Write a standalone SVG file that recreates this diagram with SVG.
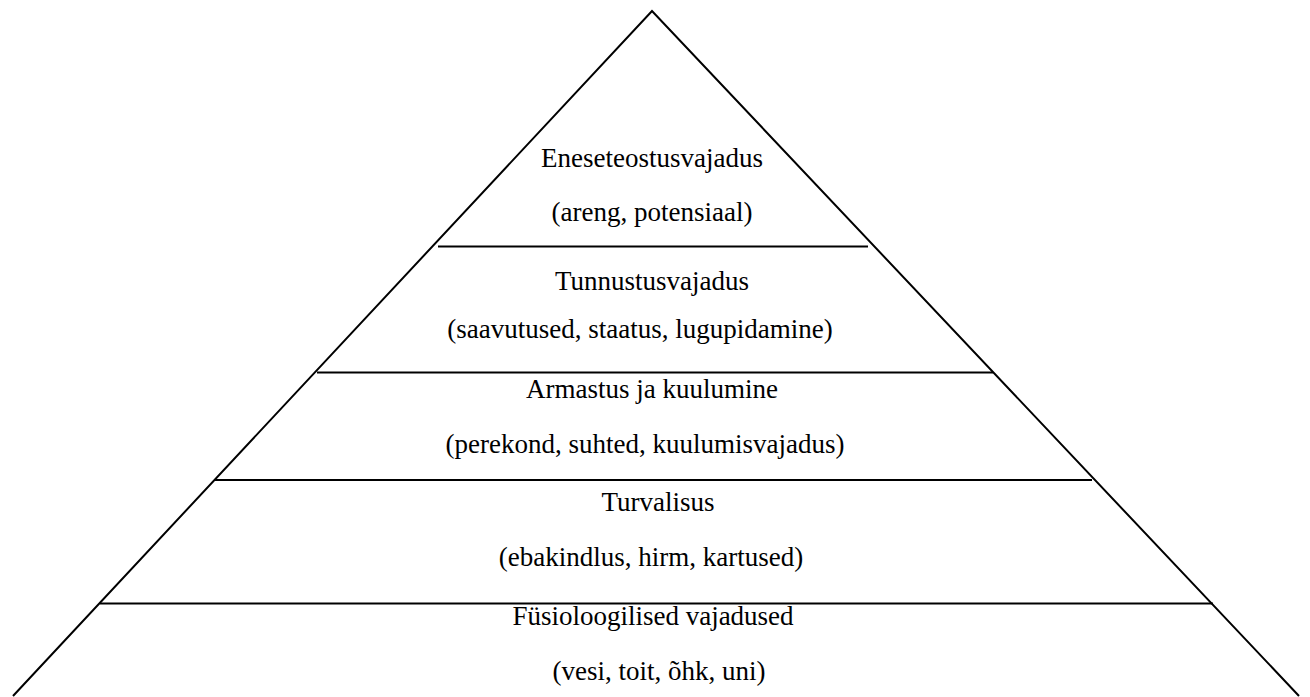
<svg xmlns="http://www.w3.org/2000/svg" width="1310" height="697" viewBox="0 0 1310 697">
<style>
.l{stroke:#000;stroke-width:2;fill:none}
.t{font-family:"Liberation Serif","Times New Roman","DejaVu Serif",serif;font-size:27px;fill:#000;text-anchor:middle}
</style>
<rect width="1310" height="697" fill="#fff"/>
<g id="connectors">
<path class="l" d="M13,696 L652,11 L1299,696"/>
<line class="l" x1="438" y1="246.5" x2="868" y2="246.5"/>
<line class="l" x1="317" y1="372.5" x2="993" y2="372.5"/>
<line class="l" x1="215" y1="480" x2="1092" y2="480"/>
<line class="l" x1="100" y1="603.5" x2="1213" y2="603.5"/>
</g>
<g id="level5" class="t" font-family="Liberation Serif, serif"><text x="652" y="167">Eneseteostusvajadus</text><text x="652" y="221">(areng, potensiaal)</text></g>
<g id="level4" class="t" font-family="Liberation Serif, serif"><text x="652" y="290">Tunnustusvajadus</text><text x="640" y="338">(saavutused, staatus, lugupidamine)</text></g>
<g id="level3" class="t" font-family="Liberation Serif, serif"><text x="652" y="398">Armastus ja kuulumine</text><text x="645" y="453">(perekond, suhted, kuulumisvajadus)</text></g>
<g id="level2" class="t" font-family="Liberation Serif, serif"><text x="658" y="511">Turvalisus</text><text x="651" y="566">(ebakindlus, hirm, kartused)</text></g>
<g id="level1" class="t" font-family="Liberation Serif, serif"><text x="653" y="625">Füsioloogilised vajadused</text><text x="659" y="680">(vesi, toit, õhk, uni)</text></g>
</svg>
